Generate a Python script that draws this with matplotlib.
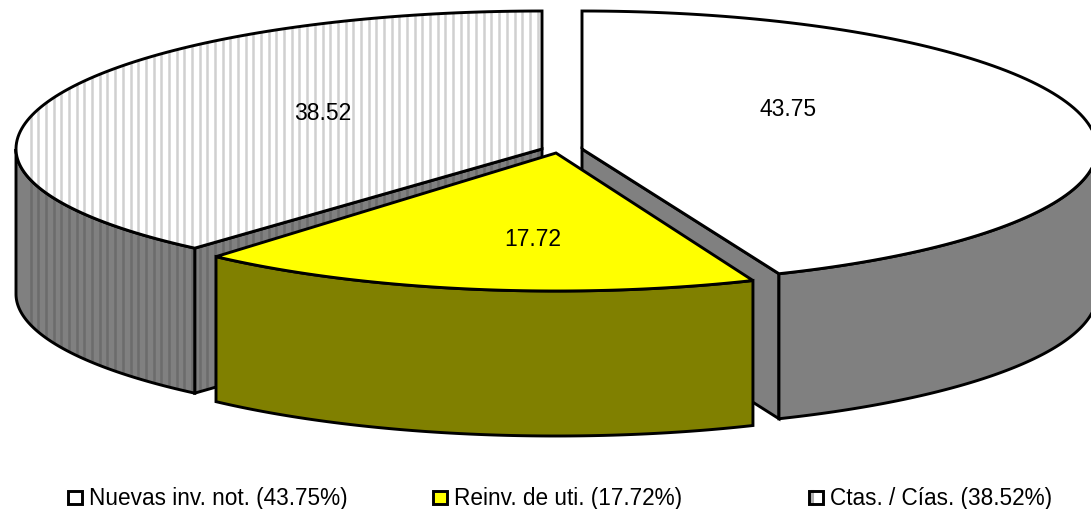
import matplotlib
matplotlib.use("Agg")
import matplotlib.pyplot as plt
from matplotlib.patches import Polygon, Rectangle
import numpy as np

plt.rcParams['font.family'] = ['Liberation Sans', 'DejaVu Sans']

# data
nombres = ["Nuevas inv. not.", "Reinv. de uti.", "Ctas. / Cías."]
valores = [43.75, 17.72, 38.52]

# colores
tapa = ["#ffffff", "#ffff00", "#ffffff"]
lado = ["#808080", "#808000", "#808080"]
raya = [False, False, True]

# geometry of the exploded pie, in pixels
apex_x = [582, 556, 542]
apex_y = [150, 154, 150]
radio_x = [515, 515, 526]
radio_y_atras = [138, 138, 138]
radio_y_frente = [135, 138, 132]
alto = 145
lw = 2.1

fig = plt.figure(figsize=(10.91, 5.10), dpi=100)
ax = fig.add_axes([0, 0, 1, 1])
ax.set_xlim(0, 1091)
ax.set_ylim(510, 0)
ax.axis("off")


def arco(i, a0, a1):
    # angle in degrees clockwise from the top of the ellipse
    t = np.radians(np.linspace(a0, a1, 120))
    x = apex_x[i] + radio_x[i] * np.sin(t)
    c = np.cos(t)
    b = np.where(c < 0, radio_y_frente[i], radio_y_atras[i])
    y = apex_y[i] - b * c
    return np.column_stack([x, y])


def pared(puntos):
    # extrude a top edge down to make a side wall
    abajo = puntos[::-1] + [0, alto]
    return np.vstack([puntos, abajo])


def rayas(poly, color):
    for x in np.arange(30.7, 1091, 7.68):
        ln, = ax.plot([x, x], [0, 510], color=color, lw=1.8, solid_capstyle="butt",
                      zorder=poly.get_zorder())
        ln.set_clip_path(poly)


def dibuja(puntos, color, z, raya_color=None):
    p = Polygon(puntos, closed=True, fc=color, ec="none", zorder=z)
    ax.add_patch(p)
    if raya_color:
        rayas(p, raya_color)
    borde = Polygon(puntos, closed=True, fc="none", ec="black", lw=lw,
                    joinstyle="miter", zorder=z + 0.5)
    ax.add_patch(borde)


# angles of each slice from the values
total = sum(valores)
fin = np.cumsum(valores) / total * 360
ini = np.concatenate([[0], fin[:-1]])

# slice 1 and 3 first, slice 2 goes on top
z = 1
for i in [0, 2, 1]:
    gris = "#6c6c6c" if raya[i] else None
    blanco = "#d0d0d0" if raya[i] else None
    ap = np.array([[apex_x[i], apex_y[i]]], dtype=float)

    # cut face towards the viewer
    if i == 0:
        dibuja(pared(np.vstack([ap, arco(i, fin[i], fin[i])[:1]])), lado[i], z, gris)
    if i == 2:
        dibuja(pared(np.vstack([arco(i, ini[i], ini[i])[:1], ap])), lado[i], z, gris)
    z += 1

    # outer wall, only the front half of the ellipse shows
    a0 = max(ini[i], 90)
    a1 = min(fin[i], 270)
    dibuja(pared(arco(i, a0, a1)), lado[i], z, gris)
    z += 1

    # top
    dibuja(np.vstack([ap, arco(i, ini[i], fin[i])]), tapa[i], z, blanco)
    z += 1

# data labels
etiqueta_x = [788, 533, 323]
etiqueta_y = [109, 240, 113]
for i in range(3):
    ax.text(etiqueta_x[i], etiqueta_y[i], f"{valores[i]:.2f}", fontsize=16.5, color="black",
            ha="center", va="center", zorder=50)

# legend
caja_x = [68, 433, 809]
for i in range(3):
    c = Rectangle((caja_x[i], 492), 14, 13, fc=tapa[i], ec="none", zorder=20)
    ax.add_patch(c)
    if raya[i]:
        ax.plot([caja_x[i] + 3, caja_x[i] + 3], [492, 505], color="#b0b0b0", lw=2.2, zorder=20)
    ax.add_patch(Rectangle((caja_x[i], 492), 14, 13, fc="none", ec="black", lw=lw,
                           joinstyle="miter", zorder=21))
    ax.text(caja_x[i] + 21, 505, f"{nombres[i]} ({valores[i]:.2f}%)", fontsize=16.3,
            ha="left", va="baseline", color="black", zorder=50)

fig.savefig("out.png", dpi=100)
